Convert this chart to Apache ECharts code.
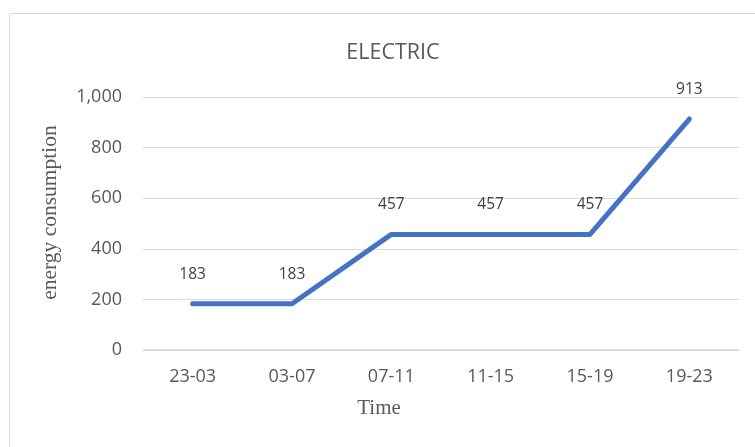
<!DOCTYPE html>
<html>
<head>
<meta charset="utf-8">
<script src="https://cdn.jsdelivr.net/npm/echarts@6/dist/echarts.min.js"></script>
<style>
  html, body { margin: 0; padding: 0; background: #fff; }
  #chart { width: 755px; height: 447px; }
  #frame { position: absolute; left: 9px; top: 13px; width: 760px; height: 450px; border: 1px solid #d9d9d9; box-sizing: border-box; pointer-events: none; }
</style>
</head>
<body>
<div id="chart"></div>
<div id="frame"></div>
<script>
// Time slots (hour ranges) and electric energy consumption per slot
const timeSlots = ['23-03', '03-07', '07-11', '11-15', '15-19', '19-23'];
const consumption = [183, 183, 457, 457, 457, 913];
const yTicks = { min: 0, max: 1000, interval: 200 };

const chart = echarts.init(document.getElementById('chart'), null, { renderer: 'canvas' });
const labelColor = '#595959';
const gridColor = '#d9d9d9';
const lineColor = '#4472C4';

chart.setOption({
  animation: false,
  title: {
    text: 'ELECTRIC',
    left: 388,
    top: 37,
    textAlign: 'center',
    textStyle: { fontFamily: 'Open Sans', fontWeight: 'normal', fontSize: 21.5, color: labelColor }
  },
  grid: { left: 143, right: 16, top: 97, bottom: 97, containLabel: false },
  xAxis: {
    type: 'category',
    data: timeSlots,
    boundaryGap: true,
    name: 'Time',
    nameLocation: 'middle',
    nameGap: 48,
    nameTextStyle: { fontFamily: 'Liberation Serif', fontSize: 21, color: labelColor, padding: [0, 124, 0, 0] },
    axisLine: { show: true, lineStyle: { color: gridColor, width: 1.5 } },
    axisTick: { show: false },
    axisLabel: { fontFamily: 'Open Sans', fontSize: 18, color: labelColor, margin: 18 }
  },
  yAxis: {
    type: 'value',
    min: yTicks.min,
    max: yTicks.max,
    interval: yTicks.interval,
    name: 'energy consumption',
    nameLocation: 'middle',
    nameGap: 82,
    nameTextStyle: { fontFamily: 'Liberation Serif', fontSize: 21.5, color: labelColor, padding: [0, 0, 0, 22] },
    axisLine: { show: false },
    axisTick: { show: false },
    splitLine: { lineStyle: { color: gridColor, width: 1 } },
    axisLabel: {
      fontFamily: 'Open Sans', fontSize: 18, color: labelColor, margin: 21,
      formatter: v => v.toLocaleString('en-US')
    }
  },
  series: [{
    type: 'line',
    data: consumption,
    showSymbol: true,
    symbol: 'circle',
    symbolSize: 1,
    itemStyle: { color: lineColor },
    lineStyle: { color: lineColor, width: 5, cap: 'round', join: 'round' },
    label: {
      show: true,
      position: 'top',
      distance: 21,
      fontFamily: 'Open Sans',
      fontSize: 15.5,
      color: '#404040'
    }
  }]
});
</script>
</body>
</html>
